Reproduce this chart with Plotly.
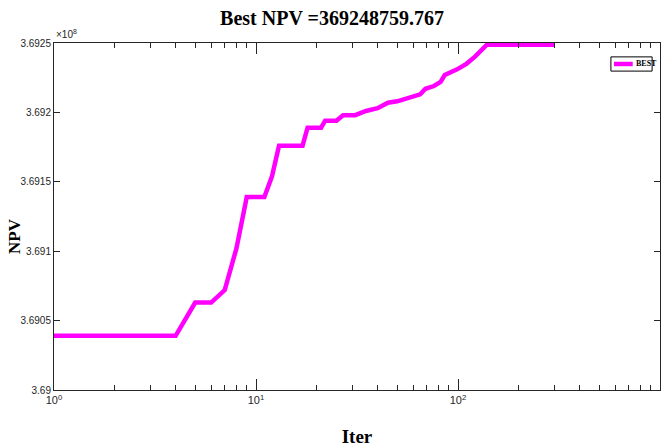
import plotly.graph_objects as go

# Data (NPV in units of 1e8), breakpoints of the convergence curve
iters = [1, 4, 5, 6, 7, 8, 9, 11, 12, 13, 17, 18, 21, 22, 25, 27, 31, 33, 35,
         40, 45, 50, 56, 65, 69, 76, 82, 86, 99, 110, 121, 139, 300]
npv_e8 = [3.69039, 3.69039, 3.69063, 3.69063, 3.69072, 3.69102, 3.69139,
          3.69139, 3.69154, 3.69176, 3.69176, 3.69189, 3.69189, 3.69194,
          3.69194, 3.69198, 3.69198, 3.69200, 3.69201, 3.69203, 3.69207,
          3.69208, 3.69210, 3.69213, 3.69217, 3.69219, 3.69222, 3.69227,
          3.69231, 3.69235, 3.69240, 3.6924876, 3.6924876]

x_tickvals = [1, 10, 100, 1000]
x_ticktext = ["10<sup>0</sup>", "10<sup>1</sup>", "10<sup>2</sup>", "10<sup>3</sup>"]
x_minor = [m * d for d in (1, 10, 100) for m in range(2, 10)]
y_tickvals = [3.69, 3.6905, 3.691, 3.6915, 3.692, 3.6925]
y_ticktext = ["3.69", "3.6905", "3.691", "3.6915", "3.692", "3.6925"]

title_text = "Best NPV =369248759.767"
x_title = "Iter"
y_title = "NPV"
series_name = "BEST"
line_color = "#FF00FF"

sans = "Liberation Sans Narrow, Liberation Sans, Arial"
serif_bold = "Liberation Serif, Times New Roman, serif"

fig = go.Figure()
fig.add_trace(go.Scatter(
    x=iters, y=npv_e8, mode="lines", name=series_name,
    line=dict(color=line_color, width=4.5), showlegend=False,
))

fig.update_layout(
    width=664, height=447,
    margin=dict(l=54, r=4, t=43, b=57, autoexpand=False),
    paper_bgcolor="white", plot_bgcolor="white",
    title=dict(text=f"<b>{title_text}</b>", x=0.5, xanchor="center",
               y=1 - 18 / 447, yanchor="middle",
               font=dict(family=serif_bold, size=20, color="black")),
    showlegend=False,
    xaxis=dict(
        type="log", range=[0, 3], automargin=False,
        tickmode="array", tickvals=x_tickvals, ticktext=x_ticktext,
        ticks="inside", ticklen=11, tickwidth=1, tickcolor="#262626",
        showline=True, linecolor="#262626", linewidth=1, mirror="ticks",
        showgrid=False, zeroline=False,
        tickfont=dict(family=sans, size=11, color="#262626"),
        minor=dict(tickmode="array", tickvals=x_minor, ticks="inside",
                   ticklen=5, tickwidth=1, tickcolor="#262626", showgrid=False),
        title=dict(text=f"<b>{x_title}</b>", standoff=24,
                   font=dict(family=serif_bold, size=19, color="black")),
    ),
    yaxis=dict(
        range=[3.69, 3.6925], automargin=False,
        tickmode="array", tickvals=y_tickvals, ticktext=y_ticktext,
        ticks="inside", ticklen=6, tickwidth=1, tickcolor="#262626",
        showline=True, linecolor="#262626", linewidth=1, mirror="ticks",
        showgrid=False, zeroline=False,
        tickfont=dict(family=sans, size=10, color="#262626"),
    ),
)

# Y axis title placed like the reference
fig.add_annotation(text=f"<b>{y_title}</b>", xref="paper", yref="paper",
                   x=(14 - 54) / 606, y=(390 - 236) / 347, textangle=-90,
                   xanchor="center", yanchor="middle", showarrow=False,
                   font=dict(family=serif_bold, size=17, color="black"))

# Legend box (drawn manually to match the compact MATLAB legend)
fig.add_shape(type="rect", xref="paper", yref="paper",
              x0=0.919, x1=0.987, y0=0.919, y1=0.960,
              line=dict(color="black", width=1), fillcolor="white", layer="above")
fig.add_shape(type="line", xref="paper", yref="paper",
              x0=0.924, x1=0.955, y0=0.9395, y1=0.9395,
              line=dict(color=line_color, width=4.5), layer="above")
fig.add_annotation(text=f"<b>{series_name}</b>", xref="paper", yref="paper",
                   x=0.957, y=0.9395, xanchor="left", yanchor="middle", showarrow=False,
                   font=dict(family=serif_bold, size=8, color="black"))

fig.add_annotation(
    text="×10<sup>8</sup>", xref="paper", yref="paper", x=0, y=1,
    xanchor="left", yanchor="bottom", showarrow=False, yshift=1,
    font=dict(family=sans, size=10, color="#262626"),
)

fig.write_html("out.html", config={"displayModeBar": False},
               post_script="document.body.style.margin='0';document.body.style.padding='0';")
